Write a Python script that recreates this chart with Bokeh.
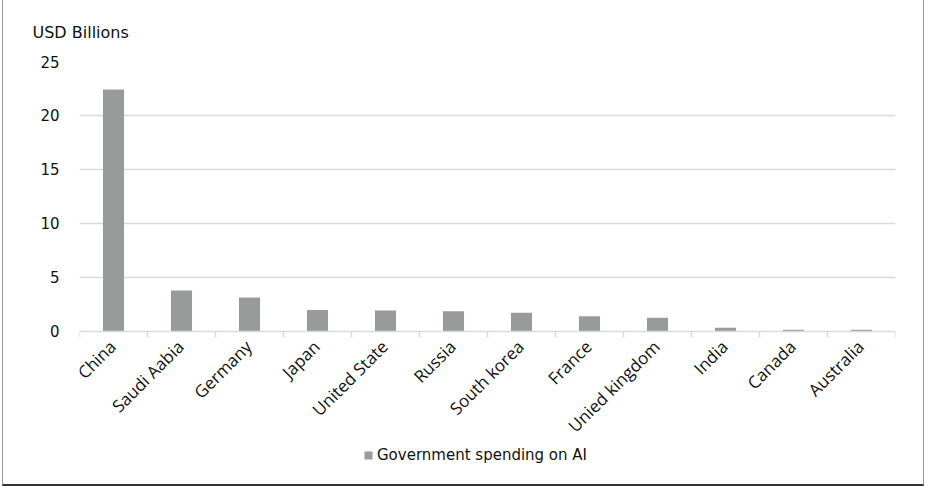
import math
from bokeh.plotting import figure
from bokeh.models import (Range1d, FixedTicker, LinearAxis, Legend, LegendItem,
                          ColumnDataSource, Title, Grid, Span)
from bokeh.embed import file_html
from bokeh.resources import INLINE

countries = ["China", "Saudi Aabia", "Germany", "Japan", "United State", "Russia",
             "South korea", "France", "Unied kingdom", "India", "Canada", "Australia"]
spending = [22.4, 3.8, 3.15, 2.0, 1.94, 1.88, 1.73, 1.42, 1.27, 0.34, 0.17, 0.15]
y_ticks = [0, 5, 10, 15, 20, 25]
series_name = "Government spending on AI"
y_title = "USD Billions"

n = len(countries)
centers = [i + 0.5 for i in range(n)]
bounds = list(range(n + 1))
zeros_c = [0] * n
zeros_b = [0] * (n + 1)

src = ColumnDataSource(dict(x=centers, top=spending, name=countries, y=zeros_c))

# frame extends below the zero line so that category labels and legend sit inside it
p = figure(frame_width=816, frame_height=419, output_backend="svg", toolbar_location=None,
           x_range=Range1d(0, n), y_range=Range1d(-13.8, 25),
           min_border_left=76, min_border_right=28, min_border_top=61,
           min_border_bottom=4, x_axis_type=None, y_axis_type=None)
p.styles = {"border-left": "1px solid #999999", "border-right": "1px solid #999999",
            "border-bottom": "2px solid #333333", "margin-left": "2px"}
p.outline_line_color = None
p.background_fill_color = "white"
p.border_fill_color = "white"

p.add_layout(Grid(dimension=1, ticker=FixedTicker(ticks=y_ticks[1:]),
                  grid_line_color="#d9d9d9", grid_line_width=1.5))
p.add_layout(Span(location=0, dimension="width", line_color="#d9d9d9", line_width=1.5))
p.ray(x=bounds, y=zeros_b, length=6, length_units="screen", angle=-math.pi / 2,
      line_color="#d9d9d9", line_width=1.5)

r = p.vbar(x="x", top="top", width=0.31, source=src, fill_color="#999b9b",
           line_color=None)

p.text(x="x", y="y", text="name", source=src, angle=math.pi / 4,
       text_align="right", text_baseline="middle", x_offset=-1, y_offset=12,
       text_font={"value": "Open Sans"}, text_font_size="17px", text_color="#111111")

yaxis = LinearAxis(ticker=FixedTicker(ticks=y_ticks))
yaxis.axis_line_color = None
yaxis.major_tick_line_color = None
yaxis.minor_tick_line_color = None
yaxis.major_label_text_font = "DejaVu Sans"
yaxis.major_label_text_font_size = "15px"
yaxis.major_label_text_color = "#111111"
yaxis.major_label_standoff = 14
p.add_layout(yaxis, "left")

p.add_layout(Title(text=y_title, text_font="DejaVu Sans", text_font_size="16px",
                   text_font_style="normal", text_color="#111111", offset=-47,
                   standoff=40), "above")

legend = Legend(items=[LegendItem(label=series_name, renderers=[r])],
                location=(284, 16), orientation="horizontal")
legend.label_text_font = "DejaVu Sans"
legend.label_text_font_size = "15px"
legend.label_text_color = "#111111"
legend.glyph_width = 10
legend.glyph_height = 10
legend.padding = 0
legend.margin = 0
legend.label_standoff = 4
legend.border_line_color = None
legend.background_fill_alpha = 0
p.add_layout(legend, "center")

open("out.html", "w").write(file_html(p, INLINE))
